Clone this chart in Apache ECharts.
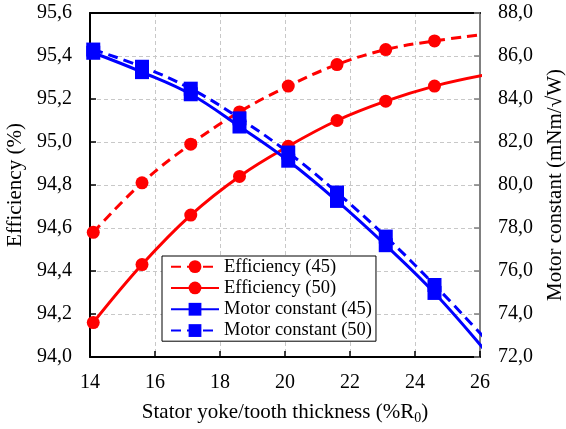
<!DOCTYPE html>
<html>
<head>
<meta charset="UTF-8">
<title>Efficiency and motor constant</title>
<script src="https://cdn.jsdelivr.net/npm/echarts@6/dist/echarts.min.js"></script>
<style>
	body{
		margin:0;
		background:#fff;
	}
	#chart{
		width:566px;
		height:429px;
	}
</style>
</head>
<body>
	<div id="chart"></div>
<script>
	// yoke/tooth thickness, last point lies just past the axis end and gets clipped
	var thickness = [14.1, 15.6, 17.1, 18.6, 20.1, 21.6, 23.1, 24.6, 26.1];
	var eff45 = [94.58, 94.81, 94.99, 95.14, 95.26, 95.36, 95.43, 95.47, 95.50];
	var eff50 = [94.16, 94.43, 94.66, 94.84, 94.98, 95.10, 95.19, 95.26, 95.31];
	var motor45 = [86.15, 85.25, 84.22, 82.72, 81.13, 79.26, 77.20, 74.98, 72.40];
	var motor50 = [86.30, 85.50, 84.48, 83.10, 81.51, 79.65, 77.60, 75.35, 72.95];
	var seriesNames = ["Efficiency (45)", "Efficiency (50)", "Motor constant (45)", "Motor constant (50)"];

	var font = "'Liberation Serif', 'Times New Roman', serif";

	function pairs(ys){
		var out = [];
		for(var i=0;i<thickness.length;i++){
			out.push([thickness[i], ys[i]]);
		}
		return out;
	}
	function comma1(v){
		return v.toFixed(1).replace(".", ",");
	}

	var myChart = echarts.init(document.getElementById("chart"));

	var option = {
		animation:false,
		textStyle:{fontFamily:font},
		grid:{left:90, right:86, top:13, bottom:72, containLabel:false, outerBoundsMode:"none"},
		legend:{
			data:seriesNames,
			orient:"vertical",
			left:162,
			top:256,
			padding:[0, 4, 0, 8],
			itemWidth:48,
			itemHeight:16,
			itemGap:0,
			backgroundColor:"#fff",
			borderColor:"#000",
			borderWidth:1,
			borderRadius:0,
			textStyle:{fontFamily:font, fontSize:18.5, color:"#000", lineHeight:21.3}
		},
		xAxis:[{
			type:"value",
			min:14,
			max:26,
			interval:2,
			name:"{a|Stator yoke/tooth thickness (%R}{s|0}{a|)}",
			nameLocation:"middle",
			nameGap:42,
			nameTextStyle:{
				rich:{
					a:{fontFamily:font, fontSize:21, color:"#000"},
					s:{fontFamily:font, fontSize:14, color:"#000", padding:[12, 0, 0, 0]}
				}
			},
			axisLine:{lineStyle:{color:"#000", width:2}},
			axisTick:{inside:true, length:6, lineStyle:{color:"#000", width:1.5}},
			axisLabel:{fontFamily:font, fontSize:20, color:"#000", margin:16},
			splitLine:{show:true, lineStyle:{color:"#c8c8c8", type:[4, 3], width:1}}
		},{
			type:"value",
			position:"top",
			min:14,
			max:26,
			interval:2,
			axisLine:{show:true, lineStyle:{color:"#000", width:2}},
			axisTick:{show:false},
			axisLabel:{show:false},
			splitLine:{show:false}
		}],
		yAxis:[{
			type:"value",
			min:94,
			max:95.6,
			interval:0.2,
			name:"Efficiency (%)",
			nameLocation:"middle",
			nameGap:62,
			nameTextStyle:{fontFamily:font, fontSize:21, color:"#000"},
			axisLine:{show:true, lineStyle:{color:"#000", width:2}},
			axisTick:{show:true, inside:true, length:6, lineStyle:{color:"#000", width:1.5}},
			axisLabel:{fontFamily:font, fontSize:20, color:"#000", margin:18, formatter:comma1},
			splitLine:{show:true, lineStyle:{color:"#c8c8c8", type:[4, 3], width:1}}
		},{
			type:"value",
			position:"right",
			min:72,
			max:88,
			interval:2,
			name:"Motor constant (mNm/\u221AW)",
			nameLocation:"middle",
			nameGap:65,
			nameRotate:90,
			nameTextStyle:{fontFamily:font, fontSize:21, color:"#000"},
			axisLine:{show:true, lineStyle:{color:"#808080", width:2}},
			axisTick:{show:true, inside:true, length:6, lineStyle:{color:"#808080", width:1.5}},
			axisLabel:{fontFamily:font, fontSize:20, color:"#000", margin:18, formatter:comma1},
			splitLine:{show:false}
		}],
		series:[{
			name:seriesNames[0],
			type:"line",
			smooth:0.4,
			data:pairs(eff45),
			symbol:"circle",
			symbolSize:13,
			itemStyle:{color:"#ff0000"},
			lineStyle:{color:"#ff0000", width:3, type:[10, 6]}
		},{
			name:seriesNames[1],
			type:"line",
			smooth:0.4,
			data:pairs(eff50),
			symbol:"circle",
			symbolSize:13,
			itemStyle:{color:"#ff0000"},
			lineStyle:{color:"#ff0000", width:3}
		},{
			name:seriesNames[2],
			type:"line",
			yAxisIndex:1,
			smooth:0.4,
			data:pairs(motor45),
			symbol:"rect",
			symbolSize:14,
			itemStyle:{color:"#0000ff"},
			lineStyle:{color:"#0000ff", width:3}
		},{
			name:seriesNames[3],
			type:"line",
			yAxisIndex:1,
			smooth:0.4,
			data:pairs(motor50),
			symbol:"rect",
			symbolSize:14,
			itemStyle:{color:"#0000ff"},
			lineStyle:{color:"#0000ff", width:3, type:[10, 6]}
		}]
	};
	myChart.setOption(option);
</script>
</body>
</html>
